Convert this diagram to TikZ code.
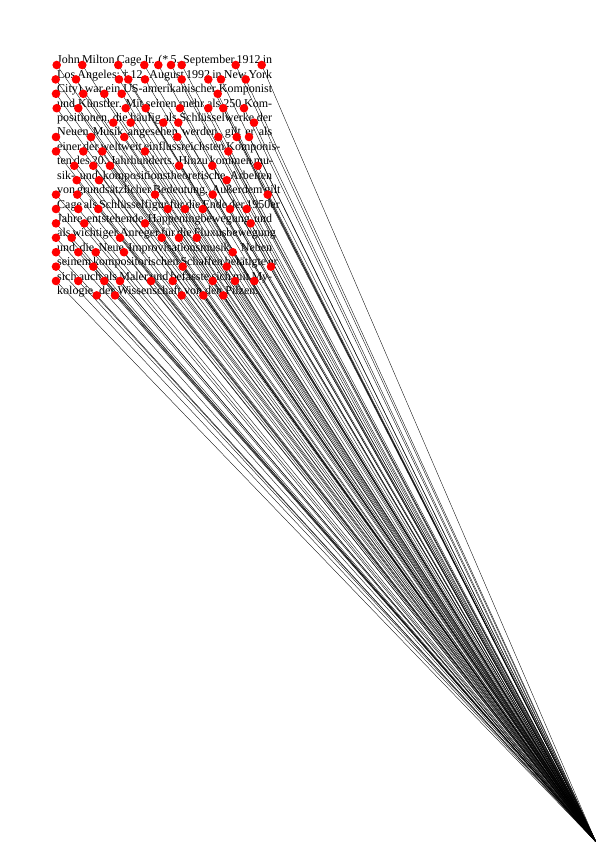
\documentclass[tikz,border=0pt]{standalone}
\usepackage{fontspec}
\setmainfont{Liberation Serif}
\usetikzlibrary{backgrounds}

\begin{document}
\begin{tikzpicture}[x=1pt,y=-1pt,
    dot/.style={circle,fill=red,inner sep=0pt,minimum size=8.6pt},
    ray/.style={line width=0.35pt},
    txt/.style={anchor=base west,inner sep=0pt,font=\fontsize{12}{14.4}\selectfont}]
    \useasboundingbox (0,0) rectangle (596,842);
    \coordinate (apex) at (596,842);
    \foreach \t [count=\i] in {{John Milton Cage Jr. (* 5. September 1912 in},
        {Los Angeles; † 12. August 1992 in New York},
        {City) war ein US-amerikanischer Komponist},
        {und Künstler. Mit seinen mehr als 250 Kom-},
        {positionen, die häufig als Schlüsselwerke der},
        {Neuen Musik angesehen werden, gilt er als},
        {einer der weltweit einflussreichsten Komponis-},
        {ten des 20. Jahrhunderts. Hinzu kommen mu-},
        {sik- und kompositionstheoretische Arbeiten},
        {von grundsätzlicher Bedeutung. Außerdem gilt},
        {Cage als Schlüsselfigur für die Ende der 1950er},
        {Jahre entstehende Happeningbewegung und},
        {als wichtiger Anreger für die Fluxusbewegung},
        {und die Neue Improvisationsmusik. Neben},
        {seinem kompositorischen Schaffen betätigte er},
        {sich auch als Maler und befasste sich mit My-}}
        \node[txt] (line\i) at (57,{64+14.4*(\i-1)}) {\makebox[215pt][s]{\t}};
    \node[txt] (line17) at (57,{64+14.4*16}) {kologie, der Wissenschaft von den Pilzen.};
    \foreach \xs [count=\i] in {{56.7,82.3,118.3,144.3,158.3,171,181.7,235.7,261.7},
        {55.7,76,119,128.3,145,181.7,208.3,221,245.7},
        {56,83.3,104.3,121.7,217.7},
        {56.7,78.3,125.7,145.7,180,208.3,223.3,244},
        {113.3,130.7,163.3,178.3,254},
        {56,91,124.3,177.3,218.3,236.7,249},
        {56,83.3,102.3,145,228.3},
        {74.3,93.3,110,179,212.3,257.7},
        {76.7,99,226.7},
        {56,77.3,155,212.7,267.7},
        {56,78.3,98.3,167.7,185,202.7,230,246.7},
        {56,84.3,145,250.7},
        {56,71.7,120,161.7,179,196.7},
        {56,78.3,95.7,124,232.7},
        {56,93.3,182.7,226.7,271},
        {56,78.3,104.3,120,151,172.7,212.7,235,254.3},
        {96.7,115,181.7,203.3,223.3}}
        \foreach \x [count=\j] in \xs {
            \node[dot] (d\i-\j) at (\x,{65+14.4*(\i-1)}) {};
            \begin{scope}[on background layer]
                \draw[ray] (d\i-\j.center) -- (apex);
            \end{scope}
        }
\end{tikzpicture}
\end{document}
